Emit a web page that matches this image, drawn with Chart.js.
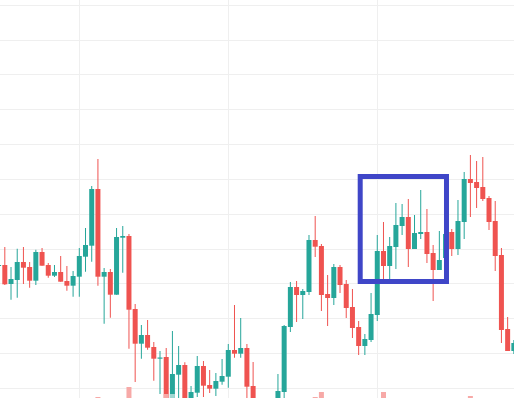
<!DOCTYPE html>
<html>
<head>
<meta charset="utf-8">
<script src="https://cdn.jsdelivr.net/npm/chart.js@4"></script>
<style>
  html, body { margin: 0; padding: 0; background: #fff; }
  canvas { display: block; }
</style>
</head>
<body>
<canvas id="chart" width="514" height="398"></canvas>
<script>
// OHLC per bar (price units, 1 unit ~ 1px).
const opens = [234, 235, 216, 220, 238, 233, 219.3, 248, 235, 224.3,
  228, 219, 214.3, 223.3, 243.3, 254.3, 311, 223.3, 228, 205.3,
  262.3, 264, 191, 156.3, 165, 153, 141.3, 143, 99, 125.3,
  135, 101, 107.3, 134, 115, 111.3, 118.3, 123.3, 150, 146.3,
  152, 114, 97, 88, 95, 97, 108, 173, 213, 205,
  208, 260, 254, 206, 202, 233, 216, 193, 173, 154,
  160, 185, 249, 234, 253, 274, 283, 251, 266, 268,
  247, 230, 242, 268, 251, 278, 321, 318, 313, 302,
  279, 245, 171, 149];
const highs = [238, 253, 233, 251.3, 253, 238, 250.3, 252, 237, 235,
  244, 234, 229, 252, 272, 314, 341, 232, 231, 272,
  274, 266, 196, 175, 180, 158, 149, 152, 169, 154,
  137.7, 114, 144, 139, 130, 127, 141, 156, 195, 182,
  156, 138, 100, 99, 100, 126, 175, 218, 219, 211,
  265, 284, 256, 225, 236, 235, 220, 211, 179, 166,
  207, 265, 278, 263, 297, 296, 301, 285, 310, 291,
  255, 269, 272, 271, 300, 328, 345, 339, 343, 304,
  299, 252, 183, 160];
const lows = [232, 215, 200.3, 202.3, 216, 212.3, 215, 234.3, 222.3, 223,
  218.3, 209.3, 203.3, 203.3, 228.3, 238.3, 214.3, 176.3, 182.3, 205.3,
  227.3, 151.3, 118, 141.3, 150.3, 119.3, 106, 92, 94, 98,
  92, 96, 103, 103, 107, 104, 115.3, 112.3, 142.3, 142.3,
  102, 90, 84, 82, 88, 94, 100, 168, 178, 181,
  205, 243, 189, 174, 195, 207, 182, 162, 145, 145,
  158, 179, 219, 219, 231, 265, 233, 251, 261, 237,
  199, 230, 238, 244, 245, 261, 283, 292, 299, 270,
  229, 157, 149, 146];
const closes = [235, 215.7, 221, 238, 232.3, 219.3, 248, 234.3, 224.3, 228,
  218.3, 214.3, 224, 244, 255, 311, 223.3, 228, 205.3, 263,
  264, 190.3, 156.3, 165, 152.3, 141.3, 142.5, 99, 126, 135,
  98, 108, 134, 114.3, 111.3, 119, 124, 150, 146.3, 152,
  113.3, 97, 88, 95, 97, 109, 174, 213, 205, 209,
  260, 253.3, 205, 202, 233, 215, 192, 172, 154, 161,
  186, 249, 234, 254, 275, 283, 251, 267, 268, 246,
  230, 240, 266, 251, 279, 321, 317, 312, 301, 278,
  244, 170, 149, 157];
// Volume: only the tallest bars poke into view; null = below the frame.
const volumes = [null, null, null, null, null, null, null, null, null, null,
  null, null, null, null, null, null, 101, null, null, null,
  null, 111, null, null, null, null, null, 104, 104, null,
  null, null, null, null, null, null, null, null, null, null,
  null, null, null, null, null, null, null, null, null, null,
  null, 101, 106, null, null, null, null, null, null, null,
  null, null, 106, null, null, null, null, null, null, null,
  null, null, null, null, null, null, 102, null, null, null,
  null, null, null, null];

const gridPrices = [111.7, 146.5, 181.3, 216.2, 251.0, 285.8, 320.6, 355.5, 390.3, 425.1, 459.9, 494.7];
const gridBars = [13, 37, 61];
const boxBars = [58.25, 72.15];
const boxPrices = [218.5, 323.5];

const UP = '#26a69a';
const DOWN = '#ef5350';
const UP_VOL = '#9fd8d2';
const DOWN_VOL = '#f7a9a7';

const isUp = i => closes[i] >= opens[i];

// Rectangle drawn over the candles, in data coordinates.
const boxPlugin = {
  id: 'box',
  afterDatasetsDraw(chart) {
    const { ctx, scales: { x, y } } = chart;
    const l = x.getPixelForValue(boxBars[0]);
    const r = x.getPixelForValue(boxBars[1]);
    const t = y.getPixelForValue(boxPrices[1]);
    const b = y.getPixelForValue(boxPrices[0]);
    ctx.save();
    ctx.strokeStyle = '#3f46c8';
    ctx.lineWidth = 5;
    ctx.strokeRect(l, t, r - l, b - t);
    ctx.restore();
  }
};

const wickData = opens.map((_, i) => ({ x: i, y: [lows[i], highs[i]] }));
const bodyData = opens.map((o, i) => ({ x: i, y: [o, closes[i]] }));
const volData = volumes.map((v, i) => ({ x: i, y: v }));

new Chart(document.getElementById('chart'), {
  type: 'bar',
  data: {
    datasets: [
      {
        data: volData, yAxisID: 'yv', order: 0, grouped: false, barThickness: 5,
        backgroundColor: ctx => isUp(ctx.dataIndex) ? UP_VOL : DOWN_VOL
      },
      {
        data: bodyData, order: 1, grouped: false, barThickness: 5,
        backgroundColor: ctx => isUp(ctx.dataIndex) ? UP : DOWN
      },
      {
        data: wickData, order: 2, grouped: false, barThickness: 1,
        backgroundColor: ctx => isUp(ctx.dataIndex) ? UP : DOWN
      }
    ]
  },
  options: {
    responsive: false,
    animation: false,
    events: [],
    layout: { padding: 0 },
    datasets: { bar: { borderWidth: 0, inflateAmount: 0 } },
    plugins: { legend: { display: false }, tooltip: { enabled: false } },
    scales: {
      x: {
        type: 'linear', min: 0.2255, max: 83.0255, offset: false,
        afterBuildTicks: s => { s.ticks = gridBars.map(v => ({ value: v })); },
        ticks: { display: false },
        grid: { color: '#efefef', drawTicks: false, offset: false },
        border: { display: false }
      },
      y: {
        min: 102, max: 500,
        afterBuildTicks: s => { s.ticks = gridPrices.map(v => ({ value: v })); },
        ticks: { display: false },
        grid: { color: '#efefef', drawTicks: false },
        border: { display: false }
      },
      yv: { display: false, min: 100, max: 498 }
    }
  },
  plugins: [boxPlugin]
});
</script>
</body>
</html>
